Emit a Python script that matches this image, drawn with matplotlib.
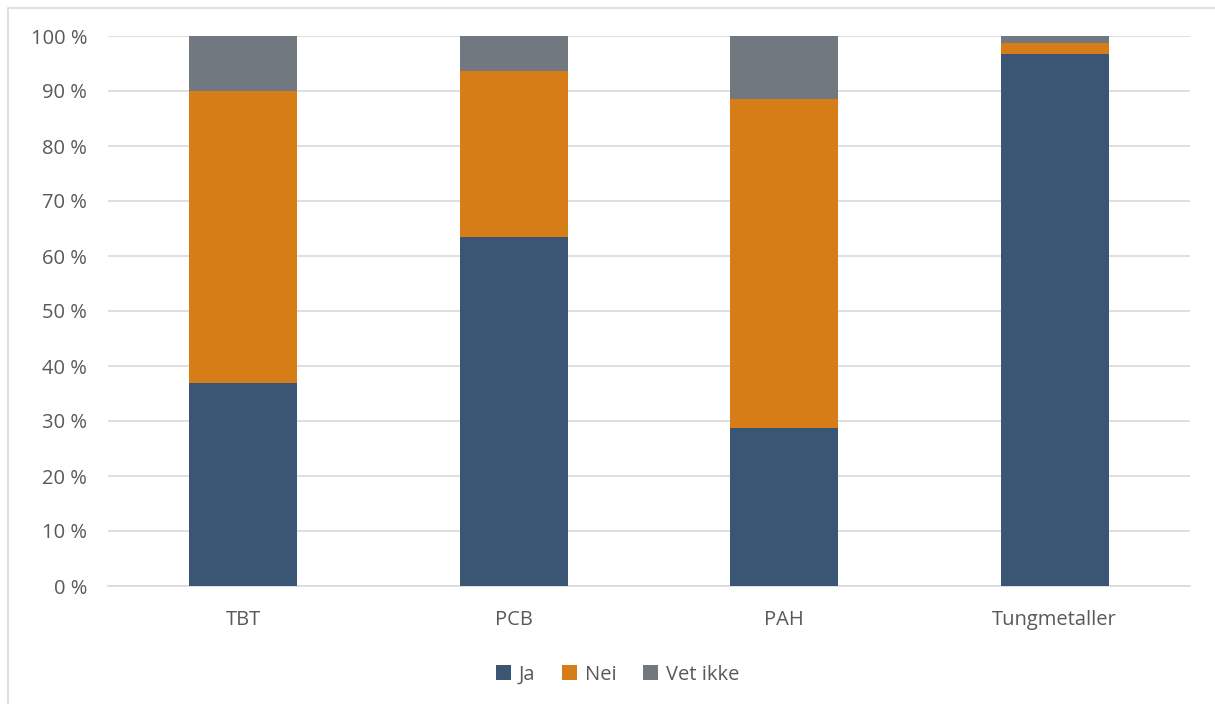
import numpy as np
import matplotlib.pyplot as plt
from matplotlib.patches import Rectangle

plt.rcParams['font.family'] = ['Open Sans', 'DejaVu Sans']

categories = ["TBT", "PCB", "PAH", "Tungmetaller"]
ja = [37.0, 63.5, 28.8, 96.8]
nei = [53.0, 30.1, 59.7, 1.9]
vet_ikke = [10.0, 6.4, 11.5, 1.3]

series = [("Ja", ja, "#3A5674"), ("Nei", nei, "#D67D17"), ("Vet ikke", vet_ikke, "#71787F")]
text_col = "#595959"

fig = plt.figure(figsize=(12.15, 7.04), dpi=100)
ax = fig.add_axes([108 / 1215, 1 - 586 / 704, (1190 - 108) / 1215, (586 - 36) / 704])

x = np.arange(len(categories))
bottom = np.zeros(len(categories))
for name, vals, col in series:
    ax.bar(x, vals, 0.4, bottom=bottom, color=col, label=name, zorder=3)
    bottom += np.array(vals)

ax.set_xlim(-0.5, len(categories) - 0.5)
ax.set_ylim(0, 100)
ax.set_yticks(np.arange(0, 101, 10))
ax.set_yticklabels([f"{v} %" for v in range(0, 101, 10)])
ax.set_xticks(x)
ax.set_xticklabels(categories)
ax.tick_params(axis='both', length=0, labelsize=14.5, colors=text_col)
ax.tick_params(axis='y', pad=15)
ax.tick_params(axis='x', pad=17)
ax.grid(axis='y', color="#D9D9D9", linewidth=1.2, zorder=0)
for s in ['top', 'right', 'left']:
    ax.spines[s].set_visible(False)
ax.spines['bottom'].set_color("#D9D9D9")
ax.spines['bottom'].set_linewidth(1.2)

leg = ax.legend(loc='upper center', bbox_to_anchor=(0.471, -0.11), ncol=3, frameon=False,
                fontsize=14.5, handlelength=0.75, handleheight=0.75, handletextpad=0.4,
                columnspacing=1.3)
for t in leg.get_texts():
    t.set_color(text_col)

fig.patches.append(Rectangle((8 / 1215, -0.01), 1.02, 1 - 8 / 704 + 0.01, transform=fig.transFigure,
                             fill=False, edgecolor="#D9D9D9", linewidth=1.2))

fig.savefig("out.png", dpi=100)
